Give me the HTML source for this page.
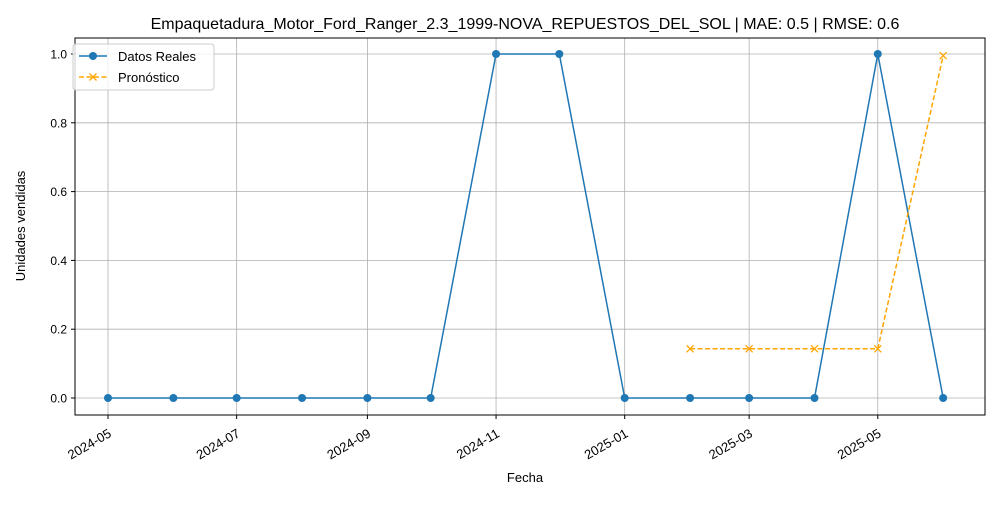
<!DOCTYPE html>
<html><head><meta charset="utf-8"><style>
body{margin:0;background:#fff;font-family:"Liberation Sans","DejaVu Sans",sans-serif}
</style></head><body>
<svg id="chart" width="1000" height="500" xmlns="http://www.w3.org/2000/svg" font-family="Liberation Sans, DejaVu Sans, sans-serif">
<rect width="1000" height="500" fill="#fff"/>
<text x="525" y="29" text-anchor="middle" font-size="16">Empaquetadura_Motor_Ford_Ranger_2.3_1999-NOVA_REPUESTOS_DEL_SOL | MAE: 0.5 | RMSE: 0.6</text>
<g id="grid"></g><g id="axes"></g><g id="series"></g>
<rect x="75" y="38" width="910" height="377" fill="none" stroke="#000" stroke-width="1"/>
<text x="525" y="482" text-anchor="middle" font-size="13">Fecha</text>
<text transform="translate(25,226) rotate(-90)" text-anchor="middle" font-size="13">Unidades vendidas</text>
<g>
<rect x="73" y="44" width="141" height="46" rx="3" fill="#fff" fill-opacity="0.8" stroke="#ccc"/>
<g>
<line x1="79" y1="56" x2="107" y2="56" stroke="#1f77b4" stroke-width="1.5"/><circle cx="93" cy="56" r="4" fill="#1f77b4"/>
<text x="118" y="61" font-size="13">Datos Reales</text></g>
<g>
<line x1="79" y1="77" x2="107" y2="77" stroke="#ffa500" stroke-width="1.5" stroke-dasharray="5,2.5"/>
<path d="M89.5 73.5l7 7M96.5 73.5l-7 7" stroke="#ffa500" stroke-width="1.3"/>
<text x="118" y="82" font-size="13">Pronóstico</text></g>
</g>
</svg>
<script>
const realDates=["2024-05-01","2024-06-01","2024-07-01","2024-08-01","2024-09-01","2024-10-01","2024-11-01","2024-12-01","2025-01-01","2025-02-01","2025-03-01","2025-04-01","2025-05-01","2025-06-01"];
const realValues=[0,0,0,0,0,0,1,1,0,0,0,0,1,0];
const fcDates=["2025-02-01","2025-03-01","2025-04-01","2025-05-01","2025-06-01"];
const fcValues=[0.143,0.143,0.143,0.143,0.995];
const xTicks=["2024-05","2024-07","2024-09","2024-11","2025-01","2025-03","2025-05"];
const yTicks=[0,0.2,0.4,0.6,0.8,1.0];
const NS="http://www.w3.org/2000/svg";
const t0=Date.parse("2024-05-01");
function X(d){return 108+(Date.parse(d.length==7?d+"-01":d)-t0)/864e5*2.109;}
function Y(v){return 398-v*344;}
function mk(tag,attrs,parent){const e=document.createElementNS(NS,tag);for(const k in attrs)e.setAttribute(k,attrs[k]);document.getElementById(parent).appendChild(e);return e;}
xTicks.forEach(t=>{const x=X(t);
 const g=mk("line",{x1:x,x2:x,y1:38,y2:415,stroke:"#b0b0b0","stroke-width":0.8},"grid");
 
 
 mk("line",{x1:x,x2:x,y1:415,y2:419,stroke:"#000"},"axes");
 const l=mk("text",{transform:`translate(${x+2},${432}) rotate(-30)`,"text-anchor":"end","font-size":13,dy:"0.35em"},"axes");
 l.textContent=t;
 
 
});
yTicks.forEach(v=>{const y=Y(v);
 const g=mk("line",{x1:75,x2:985,y1:y,y2:y,stroke:"#b0b0b0","stroke-width":0.8},"grid");
 
 
 mk("line",{x1:71,x2:75,y1:y,y2:y,stroke:"#000"},"axes");
 const l=mk("text",{x:67,y:y+4.5,"text-anchor":"end","font-size":12},"axes");
 l.textContent=v.toFixed(1);
 
 
});
const rp=mk("polyline",{points:realDates.map((d,i)=>X(d)+","+Y(realValues[i])).join(" "),fill:"none",stroke:"#1f77b4","stroke-width":1.5},"series");


realDates.forEach((d,i)=>{const c=mk("circle",{cx:X(d),cy:Y(realValues[i]),r:4,fill:"#1f77b4"},"series");
 
 });
const fp=mk("polyline",{points:fcDates.map((d,i)=>X(d)+","+Y(fcValues[i])).join(" "),fill:"none",stroke:"#ffa500","stroke-width":1.5,"stroke-dasharray":"5,2.5"},"series");


fcDates.forEach((d,i)=>{const x=X(d),y=Y(fcValues[i]);
 const m=mk("path",{d:`M${x-3.5} ${y-3.5}l7 7M${x+3.5} ${y-3.5}l-7 7`,stroke:"#ffa500","stroke-width":1.3},"series");
 
 });
</script>
</body></html>
